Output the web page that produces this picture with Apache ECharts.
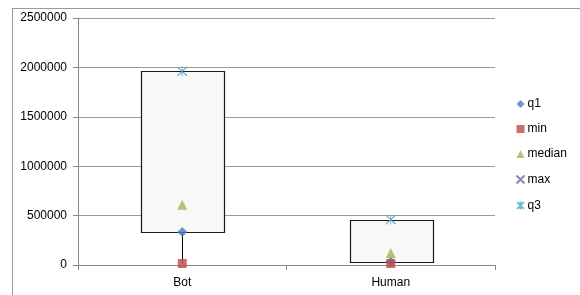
<!DOCTYPE html>
<html>
<head>
<meta charset="utf-8">
<script src="https://cdn.jsdelivr.net/npm/echarts@6/dist/echarts.min.js"></script>
<style>html,body{margin:0;padding:0;background:#fff}#c{width:580px;height:295px}</style>
</head>
<body>
<div id="c"></div>
<script>
var categories = ['Bot', 'Human'];
var q1 = [335000, 33000];
var minV = [15000, 15000];
var median = [610000, 122000];
var maxV = [1960000, 460000];
var q3 = [1960000, 460000];
var yTicks = [0, 500000, 1000000, 1500000, 2000000, 2500000];

var FONT = 'Liberation Sans';
var boxData = categories.map(function (c, i) { return [i, minV[i], q1[i], q3[i], maxV[i]]; });
function pts(arr) { return arr.map(function (v, i) { return [i, v]; }); }

var chart = echarts.init(document.getElementById('c'), null, { renderer: 'canvas' });
chart.setOption({
  animation: false,
  textStyle: { fontFamily: FONT },
  graphic: [
    { type: 'line', shape: { x1: 12, y1: 8.5, x2: 580, y2: 8.5 }, style: { stroke: '#9a9a9a', lineWidth: 1 }, silent: true },
    { type: 'line', shape: { x1: 12.5, y1: 8, x2: 12.5, y2: 295 }, style: { stroke: '#9a9a9a', lineWidth: 1 }, silent: true }
  ],
  grid: { left: 78, top: 18, right: 85, bottom: 30, containLabel: false },
  legend: {
    orient: 'vertical', left: 509, top: 93, itemWidth: 8, itemHeight: 8, itemGap: 13,
    textStyle: { fontSize: 12, color: '#000', fontFamily: FONT, padding: [0, 0, 0, -2] },
    data: ['q1', 'min', 'median', 'max', 'q3']
  },
  xAxis: {
    type: 'category', data: categories, boundaryGap: true,
    axisLine: { lineStyle: { color: '#868686' } },
    axisTick: { show: true, length: 5, lineStyle: { color: '#868686' } },
    axisLabel: { color: '#000', fontSize: 12, margin: 12, fontFamily: FONT },
    splitLine: { show: false }
  },
  yAxis: {
    type: 'value', min: 0, max: 2500000, interval: 500000,
    axisLine: { show: true, lineStyle: { color: '#868686' } },
    axisTick: { show: true, length: 5, lineStyle: { color: '#868686' } },
    axisLabel: { color: '#000', fontSize: 12, margin: 11, fontFamily: FONT,
      formatter: function (v) { return yTicks.indexOf(v) >= 0 ? String(v) : ''; } },
    splitLine: { lineStyle: { color: '#9c9c9c' } }
  },
  series: [
    {
      type: 'custom', name: 'box', z: 1,
      data: boxData,
      encode: { x: 0, y: [1, 2, 3, 4] },
      renderItem: function (params, api) {
        var x = api.value(0);
        var pMin = api.coord([x, api.value(1)]);
        var pQ1 = api.coord([x, api.value(2)]);
        var pQ3 = api.coord([x, api.value(3)]);
        var pMax = api.coord([x, api.value(4)]);
        var bw = api.size([1, 0])[0] * 0.4;
        var cx = Math.round(pQ1[0]) + 0.5;
        return {
          type: 'group',
          children: [
            { type: 'line', shape: { x1: cx, y1: pMin[1], x2: cx, y2: pQ1[1] }, style: { stroke: '#000', lineWidth: 1 } },
            { type: 'line', shape: { x1: cx, y1: pQ3[1], x2: cx, y2: pMax[1] }, style: { stroke: '#000', lineWidth: 1 } },
            { type: 'rect', shape: { x: Math.round(cx - bw / 2) + 0.5, y: Math.round(pQ3[1]) + 0.5, width: Math.round(bw), height: Math.round(pQ1[1] - pQ3[1]) },
              style: { fill: '#f8f8f8', stroke: '#1a1a1a', lineWidth: 1.2 } }
          ]
        };
      }
    },
    { type: 'scatter', name: 'q1', data: pts(q1), symbol: 'diamond', symbolSize: 10, z: 5,
      itemStyle: { color: '#4a7ebb' } },
    { type: 'scatter', name: 'min', data: pts(minV), symbol: 'rect', symbolSize: 9, z: 5,
      itemStyle: { color: '#be4b48' } },
    { type: 'scatter', name: 'median', data: pts(median), symbol: 'triangle', symbolSize: 10, z: 5,
      itemStyle: { color: '#98b954' } },
    { type: 'scatter', name: 'max', data: pts(maxV), symbol: 'path://M0,0L10,10M10,0L0,10', symbolSize: 9, z: 5,
      itemStyle: { color: 'none', borderColor: '#7d60a0', borderWidth: 1 } },
    { type: 'scatter', name: 'q3', data: pts(q3), symbol: 'path://M0,0L10,10M10,0L0,10M5,-1L5,11', symbolSize: 10, z: 6,
      itemStyle: { color: 'none', borderColor: '#46aac5', borderWidth: 1 } }
  ]
});
</script>
</body>
</html>
